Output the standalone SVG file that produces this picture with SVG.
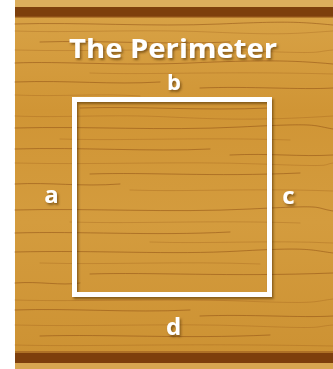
<svg xmlns="http://www.w3.org/2000/svg" width="333" height="369" viewBox="0 0 333 369">
  <style>
    .grain { fill: none; stroke: #8a4a12; stroke-linecap: round; }
    .g1 { stroke-width: 1; opacity: 0.5; }
    .g2 { stroke-width: 0.7; opacity: 0.35; }
    .lbl { font-family: "Open Sans", "DejaVu Sans", sans-serif; font-weight: 700; fill: #ffffff; text-anchor: middle; }
  </style>
  <defs>
    <linearGradient id="wood" x1="0" y1="0" x2="0" y2="1">
      <stop offset="0" stop-color="#d9a448"/>
      <stop offset="0.3" stop-color="#d09535"/>
      <stop offset="0.6" stop-color="#d49c3e"/>
      <stop offset="1" stop-color="#cc9132"/>
    </linearGradient>
    <filter id="shadow" x="-10%" y="-10%" width="130%" height="140%">
      <feDropShadow dx="1.5" dy="2" stdDeviation="1.2" flood-color="#4a2a05" flood-opacity="0.55"/>
    </filter>
  </defs>
  <rect x="0" y="0" width="333" height="369" fill="#ffffff"/>
  <g id="background">
    <rect x="15" y="0" width="318" height="369" fill="url(#wood)"/>
    <rect x="15" y="0" width="318" height="7" fill="#dcae5c"/>
    <rect x="15" y="7" width="318" height="10" fill="#7d3f0c"/>
    <rect x="15" y="16" width="318" height="2" fill="#9a5a1c" opacity="0.6"/>
    <rect x="15" y="351" width="318" height="2" fill="#9a5a1c" opacity="0.6"/>
    <rect x="15" y="353" width="318" height="10" fill="#7d3f0c"/>
    <rect x="15" y="363" width="318" height="6" fill="#d8a650"/>
    <g id="grain">
      <path class="grain g1" d="M15 24 C80 22 150 27 220 24 S300 22 333 25"/>
      <path class="grain g2" d="M15 31 C70 33 140 29 210 32 S290 34 333 31"/>
      <path class="grain g1" d="M40 42 C100 40 160 45 230 42"/>
      <path class="grain g2" d="M15 50 C90 52 170 48 250 51 S310 52 333 50"/>
      <path class="grain g1" d="M15 63 C60 61 120 66 190 63 S290 60 333 64"/>
      <path class="grain g2" d="M90 73 C150 75 220 71 333 74"/>
      <path class="grain g1" d="M15 82 C70 80 110 85 160 82"/>
      <path class="grain g1" d="M200 88 C250 86 300 90 333 88"/>
      <path class="grain g2" d="M15 95 C60 97 100 93 140 96"/>
      <path class="grain g1" d="M80 108 C140 106 200 111 270 108"/>
      <path class="grain g2" d="M15 116 C60 118 110 114 170 117 S270 120 333 116"/>
      <path class="grain g1" d="M15 128 C90 126 160 131 240 127 S310 125 333 129"/>
      <path class="grain g2" d="M60 139 C130 141 200 137 290 140"/>
      <path class="grain g1" d="M15 149 C80 147 150 152 210 149"/>
      <path class="grain g1" d="M230 155 C270 153 300 157 333 155"/>
      <path class="grain g2" d="M15 163 C100 165 180 161 260 164 S320 165 333 163"/>
      <path class="grain g1" d="M90 174 C150 172 210 177 300 173"/>
      <path class="grain g1" d="M15 184 C50 182 80 187 120 184"/>
      <path class="grain g2" d="M130 190 C190 192 250 188 333 191"/>
      <path class="grain g1" d="M15 210 C90 208 170 213 250 209 S310 207 333 211"/>
      <path class="grain g2" d="M70 222 C140 224 210 220 300 223"/>
      <path class="grain g1" d="M15 233 C80 231 150 236 230 232"/>
      <path class="grain g2" d="M150 242 C210 244 270 240 333 243"/>
      <path class="grain g1" d="M15 252 C100 250 170 255 240 251 S310 250 333 253"/>
      <path class="grain g2" d="M40 263 C110 265 180 261 260 264"/>
      <path class="grain g1" d="M90 274 C150 272 230 277 333 273"/>
      <path class="grain g1" d="M15 283 C40 281 60 286 80 283"/>
      <path class="grain g2" d="M15 300 C80 302 160 298 240 301 S310 302 333 299"/>
      <path class="grain g1" d="M15 310 C70 308 130 313 190 310"/>
      <path class="grain g1" d="M200 316 C250 314 300 318 333 316"/>
      <path class="grain g2" d="M15 325 C90 327 170 323 250 326 S310 327 333 325"/>
      <path class="grain g1" d="M40 336 C110 334 180 339 270 335"/>
      <path class="grain g2" d="M15 345 C90 347 170 343 333 346"/>
    </g>
  </g>
  <g id="title" filter="url(#shadow)">
    <text class="lbl" x="173" y="58" font-size="27" textLength="208" lengthAdjust="spacingAndGlyphs">The Perimeter</text>
  </g>
  <g id="square" filter="url(#shadow)">
    <rect x="74.5" y="99.5" width="195" height="195" fill="none" stroke="#ffffff" stroke-width="5"/>
  </g>
  <g id="label-b" filter="url(#shadow)">
    <text class="lbl" x="174" y="90" font-size="22">b</text>
  </g>
  <g id="label-a" filter="url(#shadow)">
    <text class="lbl" x="51.5" y="203" font-size="24">a</text>
  </g>
  <g id="label-c" filter="url(#shadow)">
    <text class="lbl" x="288.5" y="204" font-size="24">c</text>
  </g>
  <g id="label-d" filter="url(#shadow)">
    <text class="lbl" x="173.5" y="335" font-size="24">d</text>
  </g>
</svg>
